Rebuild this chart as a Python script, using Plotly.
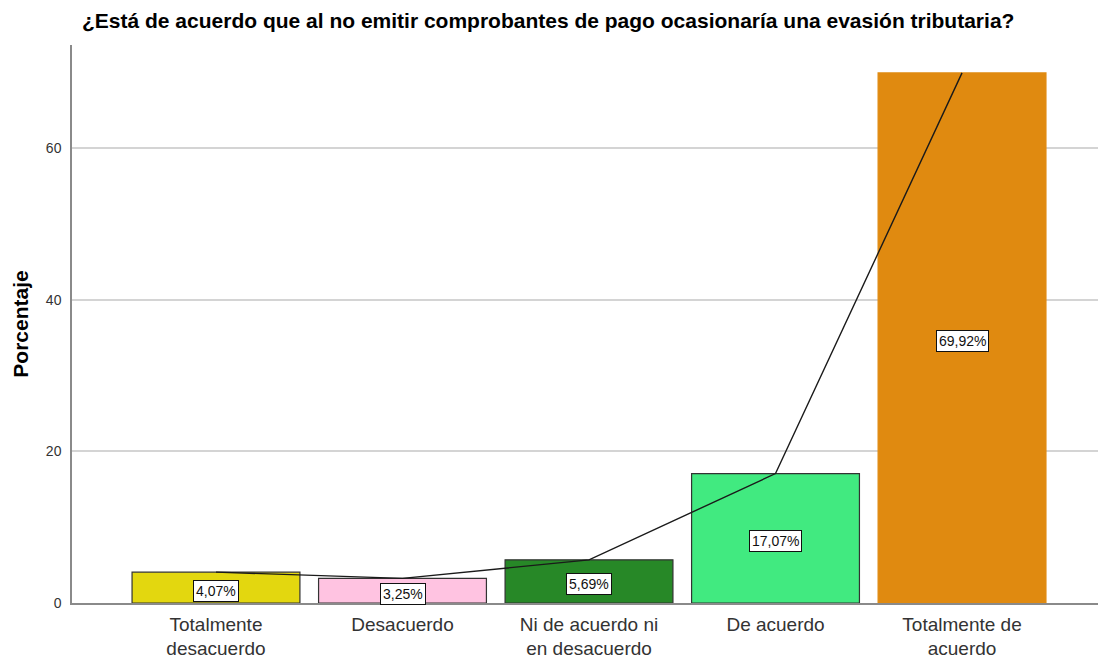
import plotly.graph_objects as go

categories = ["Totalmente<br>desacuerdo", "Desacuerdo", "Ni de acuerdo ni<br>en desacuerdo",
              "De acuerdo", "Totalmente de<br>acuerdo"]
values = [4.07, 3.25, 5.69, 17.07, 69.92]
value_labels = ["4,07%", "3,25%", "5,69%", "17,07%", "69,92%"]
bar_colors = ["#E3D70F", "#FFC3E1", "#278827", "#41EA80", "#E08A10"]
outline_colors = ["#333333", "#333333", "#333333", "#333333", "#E08A10"]
y_ticks = [0, 20, 40, 60]

x_idx = list(range(len(categories)))

fig = go.Figure()
fig.add_trace(go.Bar(
    x=x_idx, y=values, width=0.9,
    marker=dict(color=bar_colors, line=dict(color=outline_colors, width=1.2)),
    hoverinfo="skip", showlegend=False,
))
fig.add_trace(go.Scatter(
    x=x_idx, y=values, mode="lines",
    line=dict(color="#1a1a1a", width=1.4),
    hoverinfo="skip", showlegend=False,
))

for i, (v, t) in enumerate(zip(values, value_labels)):
    fig.add_annotation(
        x=i, y=v / 2, text=t, showarrow=False, yshift=-3,
        font=dict(family="Liberation Sans, Arial", size=14, color="#111111"),
        bgcolor="white", bordercolor="#111111", borderwidth=1, borderpad=2,
    )

fig.update_layout(
    width=1098, height=659,
    margin=dict(l=72, r=0, t=45, b=56),
    paper_bgcolor="white", plot_bgcolor="white",
    title=dict(
        text="<b>¿Está de acuerdo que al no emitir comprobantes de pago ocasionaría una evasión tributaria?</b>",
        x=82 / 1098, xanchor="left", y=1 - 21 / 659, yanchor="middle",
        font=dict(family="Liberation Sans, Arial", size=21, color="#000000"),
    ),
    font=dict(family="Liberation Sans, Arial"),
    bargap=0.1,
)
fig.update_xaxes(
    range=[-0.772, 4.729], automargin=False,
    tickmode="array", tickvals=x_idx, ticktext=categories,
    tickfont=dict(size=19, color="#333333"),
    showline=True, linecolor="#8a8a8a", linewidth=1.5,
    showgrid=False, zeroline=False, ticks="", ticklabelstandoff=3,
)
fig.update_yaxes(
    range=[0, 73.6], automargin=False,
    tickmode="array", tickvals=y_ticks,
    tickfont=dict(size=14, color="#333333"),
    title=dict(text="<b>Porcentaje</b>", font=dict(size=21, color="#000000"), standoff=12),
    showline=True, linecolor="#8a8a8a", linewidth=1.5,
    showgrid=True, gridcolor="#d4d4d4", gridwidth=1.5,
    zeroline=False, ticks="", ticklabelstandoff=6,
)

fig.write_html("out.html", config={"displayModeBar": False},
               post_script="document.body.style.margin='0';document.body.style.overflow='hidden';")
